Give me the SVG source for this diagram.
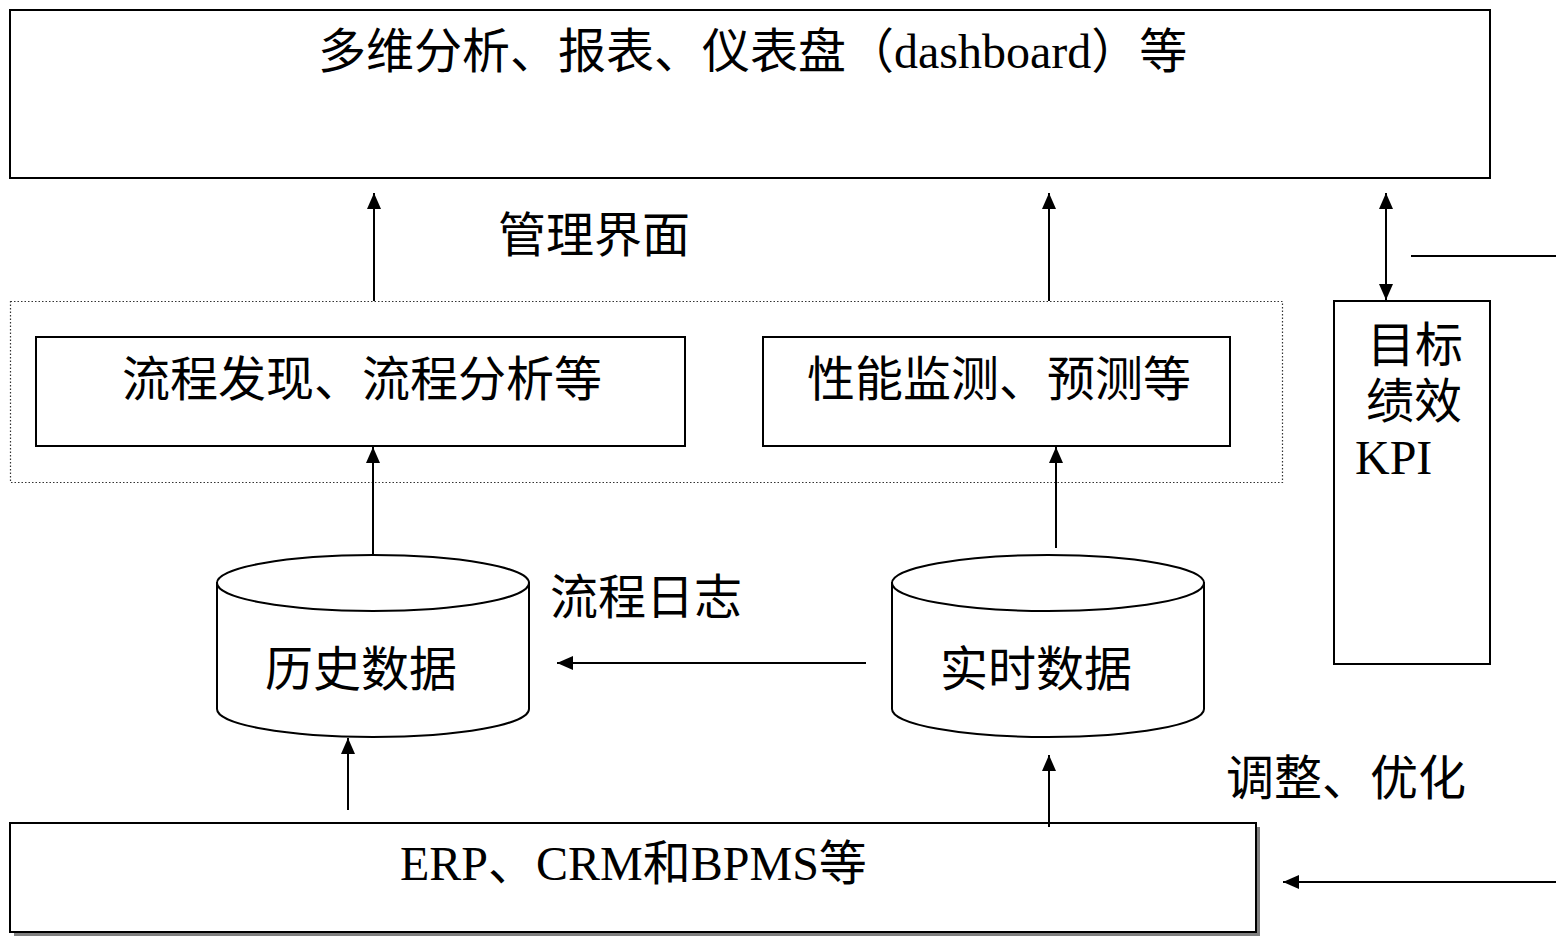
<svg xmlns="http://www.w3.org/2000/svg" width="1556" height="937" viewBox="0 0 1556 937">
<style>
.box{fill:#fff;stroke:#000;stroke-width:2}
.shadow{fill:#808080;stroke:none}
.dot{fill:none;stroke:#333;stroke-width:1.2;stroke-dasharray:1.5 2}
.cyl{fill:#fff;stroke:#000;stroke-width:2}
.t{font-family:"Liberation Serif","Noto Sans CJK SC",serif;font-size:48px;fill:#000}
.ln{fill:none;stroke:#000;stroke-width:2}
</style>
<defs>
<marker id="ah" markerUnits="userSpaceOnUse" markerWidth="16" markerHeight="14" viewBox="0 0 16 14" refX="16" refY="7" orient="auto-start-reverse">
<path d="M0,0 L16,7 L0,14 Z" fill="#000"/>
</marker>
</defs>
<rect width="1556" height="937" fill="#fff"/>
<g id="top-box">
<rect class="box" x="10" y="10" width="1480" height="168"/>
<text class="t" x="318" y="68">多维分析、报表、仪表盘（dashboard）等</text>
</g>
<g id="container">
<rect class="dot" x="10.5" y="301.5" width="1272" height="181"/>
</g>
<g id="discovery">
<rect class="box" x="36" y="337" width="649" height="109"/>
<text class="t" x="122" y="396">流程发现、流程分析等</text>
</g>
<g id="monitor">
<rect class="box" x="763" y="337" width="467" height="109"/>
<text class="t" x="807" y="396">性能监测、预测等</text>
</g>
<g id="kpi">
<rect class="box" x="1334" y="301" width="156" height="363"/>
<text class="t" x="1367" y="362">目标</text>
<text class="t" x="1366" y="418">绩效</text>
<text class="t" x="1355" y="474">KPI</text>
</g>
<g id="history">
<path class="cyl" d="M217,583 L217,709 A156,28 0 0,0 529,709 L529,583 Z"/>
<ellipse class="cyl" cx="373" cy="583" rx="156" ry="28"/>
<text class="t" x="265" y="686">历史数据</text>
</g>
<g id="realtime">
<path class="cyl" d="M892,583 L892,709 A156,28 0 0,0 1204,709 L1204,583 Z"/>
<ellipse class="cyl" cx="1048" cy="583" rx="156" ry="28"/>
<text class="t" x="940" y="686">实时数据</text>
</g>
<g id="erp">
<rect class="shadow" x="14" y="827" width="1246" height="109"/>
<rect class="box" x="10" y="823" width="1246" height="109"/>
<text class="t" x="400" y="880">ERP、CRM和BPMS等</text>
</g>
<g id="labels">
<text class="t" x="498" y="252">管理界面</text>
<text class="t" x="550" y="614">流程日志</text>
<text class="t" x="1226" y="795">调整、优化</text>
</g>
<g id="connectors">
<line class="ln" x1="374" y1="301" x2="374" y2="193" marker-end="url(#ah)"/>
<line class="ln" x1="1049" y1="301" x2="1049" y2="193" marker-end="url(#ah)"/>
<line class="ln" x1="373" y1="555" x2="373" y2="447" marker-end="url(#ah)"/>
<line class="ln" x1="1056" y1="548" x2="1056" y2="447" marker-end="url(#ah)"/>
<line class="ln" x1="348" y1="810" x2="348" y2="738" marker-end="url(#ah)"/>
<line class="ln" x1="1049" y1="827" x2="1049" y2="755" marker-end="url(#ah)"/>
<line class="ln" x1="866" y1="663" x2="557" y2="663" marker-end="url(#ah)"/>
<line class="ln" x1="1556" y1="882" x2="1283" y2="882" marker-end="url(#ah)"/>
<line class="ln" x1="1386" y1="193" x2="1386" y2="300" marker-start="url(#ah)" marker-end="url(#ah)"/>
<line class="ln" x1="1411" y1="256" x2="1556" y2="256"/>
</g>
</svg>
